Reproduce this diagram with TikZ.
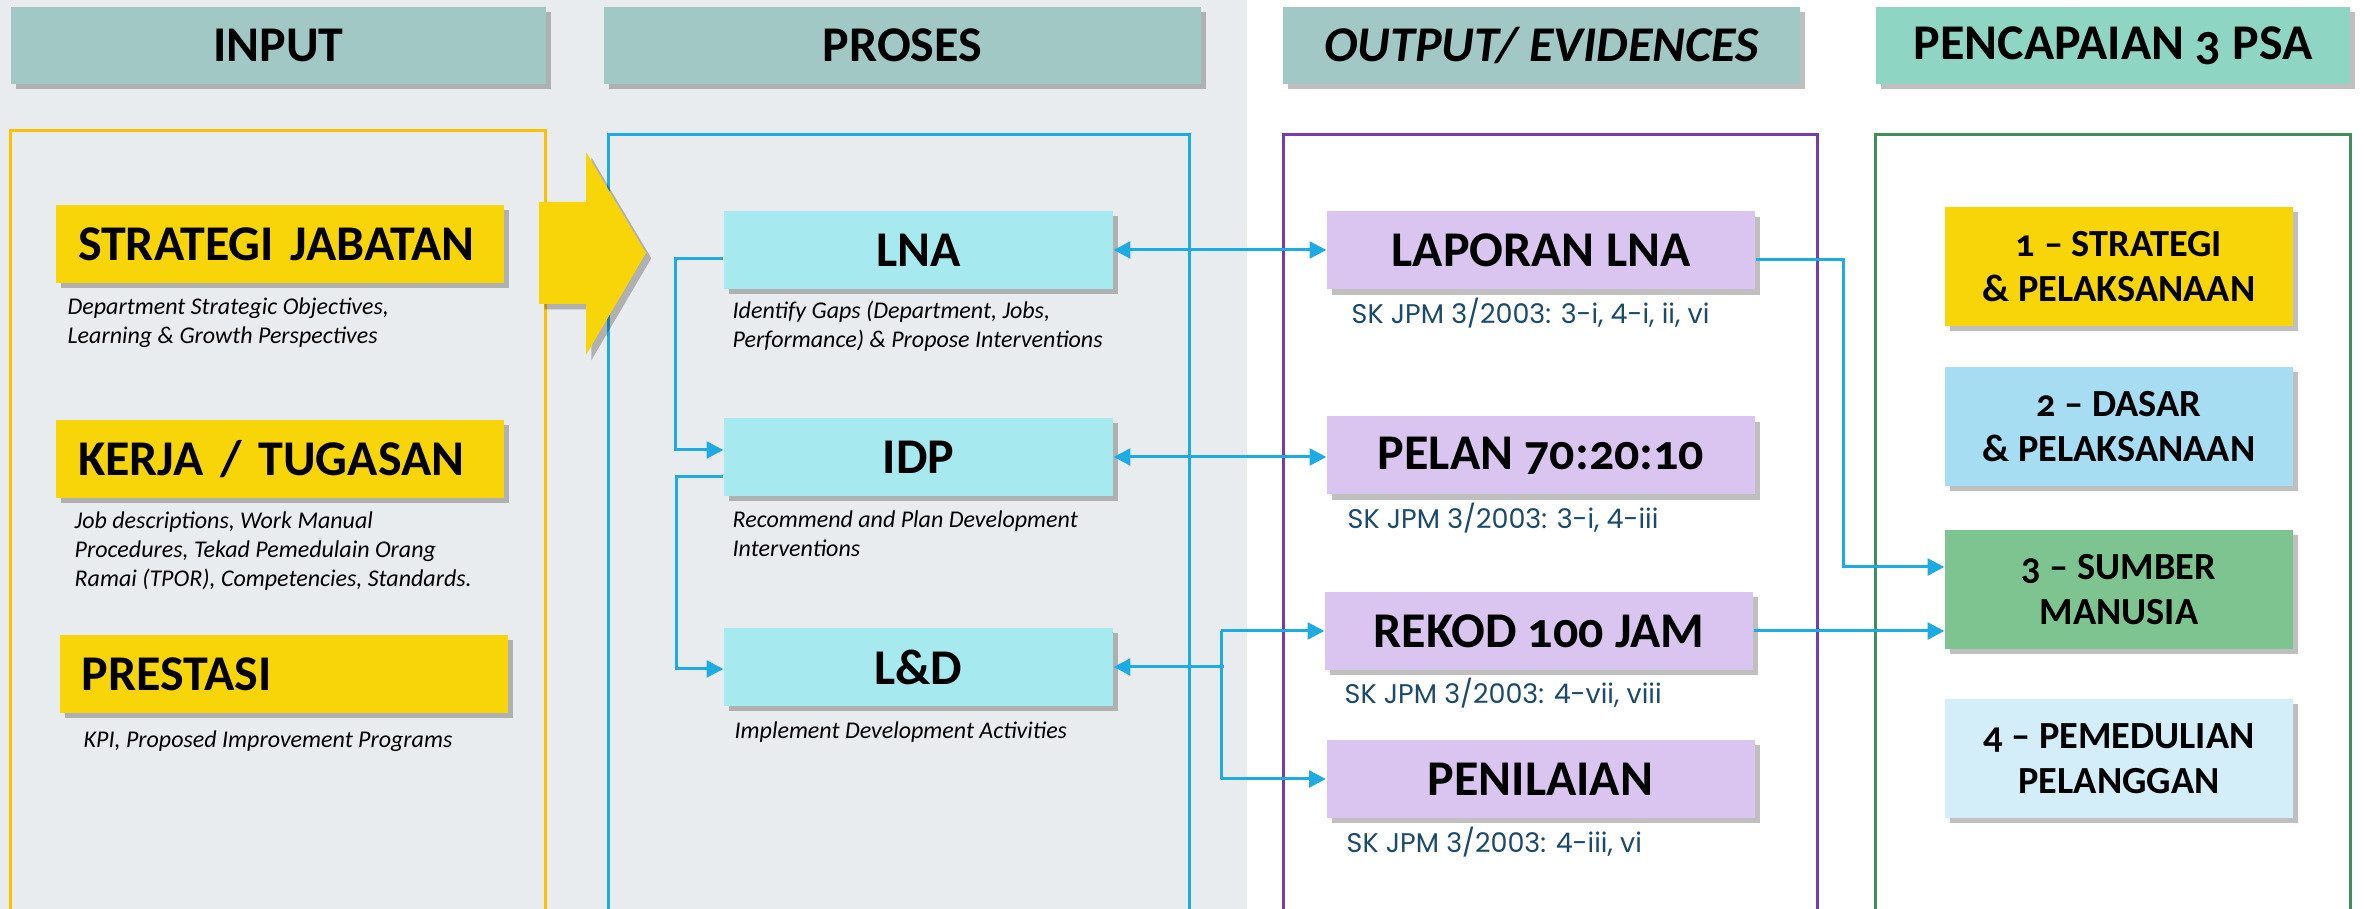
\documentclass[tikz,border=0pt]{standalone}
\usepackage{fontspec}
\setmainfont{Carlito}[Numbers=OldStyle]
\newfontfamily\skfont{Poppins}
\usetikzlibrary{shadows,arrows.meta,calc}
\definecolor{bggrey}{HTML}{E9ECEE}
\definecolor{hdrteal}{HTML}{A2C8C6}
\definecolor{hdrmint}{HTML}{8ED6C3}
\definecolor{yel}{HTML}{F8D508}
\definecolor{fryellow}{HTML}{FFC000}
\definecolor{frblue}{HTML}{1EABE3}
\definecolor{frpurple}{HTML}{7A3BAA}
\definecolor{frgreen}{HTML}{3F8F5E}
\definecolor{cyanbox}{HTML}{A6EAF0}
\definecolor{lilac}{HTML}{D9C5EF}
\definecolor{psablue}{HTML}{A6DDF2}
\definecolor{psagreen}{HTML}{7DC491}
\definecolor{psapale}{HTML}{D3EEF8}
\definecolor{skblue}{HTML}{1B4A6B}
\begin{document}
\begin{tikzpicture}[x=0.3pt,y=-0.3pt,
  shd/.style={drop shadow={shadow xshift=1.6pt,shadow yshift=-1.6pt,fill=black,opacity=0.25}},
  hdr/.style={minimum height=23.1pt,inner sep=0pt,font=\fontsize{15}{18}\selectfont\bfseries,shd},
  ibox/.style={fill=yel,minimum height=23.4pt,text width=121.2pt,inner xsep=6.6pt,inner ysep=0pt,align=left,font=\fontsize{15}{18}\selectfont\bfseries,shd},
  pbox/.style={fill=cyanbox,minimum width=116.7pt,minimum height=23.4pt,inner sep=0pt,font=\fontsize{15}{18}\selectfont\bfseries,shd},
  obox/.style={fill=lilac,minimum width=128.4pt,minimum height=23.4pt,inner sep=0pt,font=\fontsize{15}{18}\selectfont\bfseries,shd},
  sbox/.style={minimum width=104.4pt,minimum height=35.7pt,inner sep=0pt,align=center,font=\fontsize{11.5}{13.5}\selectfont\bfseries,shd},
  desc/.style={anchor=base west,align=left,inner sep=0pt,font=\fontsize{7.2}{8.7}\selectfont\itshape},
  sk/.style={anchor=base west,inner sep=0pt,text=skblue,font=\skfont\fontsize{8.1}{10}\selectfont},
  frame/.style={line width=0.9pt},
  conn/.style={draw=frblue,line width=0.9pt},
  >={Triangle[length=5pt,width=5pt]}]
\useasboundingbox (0,0) rectangle (2364,909);
\fill[white] (0,0) rectangle (2364,909);
\fill[bggrey] (0,0) rectangle (1247,909);

% headers
\node[hdr,fill=hdrteal,minimum width=160.5pt] (hinput) at (278.5,45.5) {INPUT};
\node[hdr,fill=hdrteal,minimum width=179.1pt] (hproses) at (902.5,45.5) {PROSES};
\node[hdr,fill=hdrteal,minimum width=155.1pt] (houtput) at (1541.5,45.5) {\itshape OUTPUT/ EVIDENCES};
\node[hdr,fill=hdrmint,minimum width=142.2pt] (hpsa) at (2113,45.5) {PENCAPAIAN 3 PSA};

% frames
\draw[frame,draw=fryellow] (10,915) -- (10,131) -- (545,131) -- (545,915);
\draw[frame,draw=frblue] (608,915) -- (608,135) -- (1189,135) -- (1189,915);
\draw[frame,draw=frpurple] (1283,915) -- (1283,135) -- (1817,135) -- (1817,915);
\draw[frame,draw=frgreen] (1875,915) -- (1875,135) -- (2350,135) -- (2350,915);

% yellow arrow
\fill[yel,shd] (539,202) -- (586,202) -- (586,152) -- (646,253) -- (586,355) -- (586,304) -- (539,304) -- cycle;

% input column
\node[ibox] (sj) at (280,244) {STRATEGI JABATAN};
\node[desc] (dsj) at (67,344) {Department Strategic Objectives,\\Learning \& Growth Perspectives};
\node[ibox] (kt) at (280,459) {KERJA / TUGASAN};
\node[desc] (dkt) at (74,587) {Job descriptions, Work Manual\\Procedures, Tekad Pemedulain Orang\\Ramai (TPOR), Competencies, Standards.};
\node[ibox] (pr) at (283.5,674) {PRESTASI};
\node[desc] (dpr) at (83,748) {KPI, Proposed Improvement Programs};

% proses column
\node[pbox] (lna) at (918.5,250) {LNA};
\node[desc] (dlna) at (732,348) {Identify Gaps (Department, Jobs,\\Performance) \& Propose Interventions};
\node[pbox] (idp) at (918.5,457) {IDP};
\node[desc] (didp) at (732,557) {Recommend and Plan Development\\Interventions};
\node[pbox] (ld) at (918.5,667) {L\&D};
\node[desc] (dld) at (734,739) {Implement Development Activities};

% output column
\node[obox] (lap) at (1541,250.5) {LAPORAN LNA};
\node[sk] (sklap) at (1351,324) {SK JPM 3/2003: 3-i, 4-i, ii, vi};
\node[obox] (pel) at (1541,455.5) {PELAN 70:20:10};
\node[sk] (skpel) at (1347,529) {SK JPM 3/2003: 3-i, 4-iii};
\node[obox] (rek) at (1539,631) {REKOD 100 JAM};
\node[sk] (skrek) at (1344,704) {SK JPM 3/2003: 4-vii, viii};
\node[obox] (pen) at (1540.5,779) {PENILAIAN};
\node[sk] (skpen) at (1346,853) {SK JPM 3/2003: 4-iii, vi};

% PSA column
\node[sbox,fill=yel] (p1) at (2119,266.5) {1 – STRATEGI\\\& PELAKSANAAN};
\node[sbox,fill=psablue] (p2) at (2119,426.5) {2 – DASAR\\\& PELAKSANAAN};
\node[sbox,fill=psagreen] (p3) at (2119,589.5) {3 – SUMBER\\MANUSIA};
\node[sbox,fill=psapale] (p4) at (2119,758.5) {4 – PEMEDULIAN\\PELANGGAN};

% connectors
\coordinate (jx) at (1221,0);
\coordinate (kx) at (1843,0);
\draw[conn,->] ($(lna.west)+(0,9)$) -- ++(-48,0) |- ($(idp.west)+(0,-7)$);
\draw[conn,->] ($(idp.west)+(0,20)$) -- ++(-47,0) |- ($(ld.west)+(0,2)$);
\draw[conn,<->] (lna.east) -- (lna.east -| lap.west);
\draw[conn,<->] (idp.east) -- (idp.east -| pel.west);
\draw[conn,<-] (ld.east) -- ($(ld.east -| jx)+(3,0)$);
\draw[conn] (rek.west -| jx) -- (pen.west -| jx);
\draw[conn,->] (rek.west -| jx) -- (rek.west);
\draw[conn,->] (pen.west -| jx) -- (pen.west);
\draw[conn,->] ($(lap.east)+(0,9.5)$) -- ($(lap.east -| kx)+(0,9.5)$) |- ($(p3.west)+(0,-22.5)$);
\draw[conn,->] (rek.east) -- (rek.east -| p3.west);
\end{tikzpicture}
\end{document}
